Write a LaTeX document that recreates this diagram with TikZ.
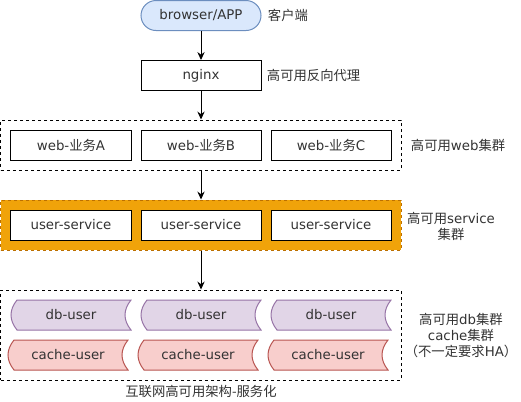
\documentclass[tikz,border=0pt]{standalone}
\usepackage{fontspec}
\setmainfont{DejaVu Sans}
\newfontfamily\cjk{Noto Sans CJK SC}
\usetikzlibrary{arrows.meta}
\definecolor{boxblue}{HTML}{DAE8FC}
\definecolor{lineblue}{HTML}{6C8EBF}
\definecolor{svcorange}{HTML}{F0A30A}
\definecolor{svcline}{HTML}{BD7000}
\definecolor{dbfill}{HTML}{E1D5E7}
\definecolor{dbline}{HTML}{9673A6}
\definecolor{cachefill}{HTML}{F8CECC}
\definecolor{cacheline}{HTML}{B85450}
\definecolor{txt}{HTML}{333333}
\newcommand{\datastore}[5]{%
  \draw[draw=#4,fill=#3,shift={#2}] (-54,-15) -- (60,-15) .. controls (52,-5) and (52,5) .. (60,15) -- (-54,15) .. controls (-62,5) and (-62,-5) .. cycle;
  \node[storetext] (#1) at #2 {#5};
}

\begin{document}
\begin{tikzpicture}[x=0.75pt,y=-0.75pt,line width=0.75pt,
	every node/.style={font=\fontsize{10pt}{12pt}\selectfont,text=txt},
	box/.style={draw,fill=white,minimum width=90pt,minimum height=22.5pt,inner sep=0pt},
	grp/.style={draw,dash pattern=on 2.25pt off 2.25pt,minimum width=300pt,inner sep=0pt},
	storetext/.style={minimum width=90pt,minimum height=22.5pt,inner sep=0pt},
	flow/.style={-{Stealth[length=6pt,width=5.5pt,inset=2pt]}},
	note/.style={align=center}]
		\useasboundingbox (-1,0) rectangle (520,401);
		\node[grp,minimum height=37.5pt] (webgrp) at (200,145) {};
		\node[grp,minimum height=37.5pt,fill=svcorange,draw=svcline] (svcgrp) at (200,225) {};
		\node[grp,minimum height=67.5pt] (storegrp) at (200,335) {};
		\node[box,rounded corners=11.25pt,fill=boxblue,draw=lineblue] (browser) at (200,15.5) {browser/APP};
		\node[box] (nginx) at (200,75.5) {nginx};
		\node[box] (webA) at (70,145) {web-{\cjk 业务}A};
		\node[box] (webB) at (200,145) {web-{\cjk 业务}B};
		\node[box] (webC) at (330,145) {web-{\cjk 业务}C};
		\node[box] (svcA) at (70,225) {user-service};
		\node[box] (svcB) at (200,225) {user-service};
		\node[box] (svcC) at (330,225) {user-service};
		\datastore{dbA}{(70,315)}{dbfill}{dbline}{db-user}
		\datastore{dbB}{(200,315)}{dbfill}{dbline}{db-user}
		\datastore{dbC}{(330,315)}{dbfill}{dbline}{db-user}
		\datastore{cacheA}{(67,355)}{cachefill}{cacheline}{cache-user}
		\datastore{cacheB}{(197,355)}{cachefill}{cacheline}{cache-user}
		\datastore{cacheC}{(327,355)}{cachefill}{cacheline}{cache-user}
		\draw[flow] (browser) -- (nginx);
		\draw[flow] (nginx) -- (webgrp);
		\draw[flow] (webgrp) -- (svcgrp);
		\draw[flow] (svcgrp) -- (storegrp);
		\node[anchor=west] (clientlbl) at (262,15.5) {{\cjk 客户端}};
		\node[anchor=west] (proxylbl) at (261,75) {{\cjk 高可用反向代理}};
		\node[anchor=west] (weblbl) at (405,145) {{\cjk 高可用}web{\cjk 集群}};
		\node[note] (svclbl) at (450,226) {{\cjk 高可用}service\\{\cjk 集群}};
		\node[note] (storelbl) at (460,336) {{\cjk 高可用}db{\cjk 集群}\\cache{\cjk 集群}\\{\cjk （不一定要求}HA{\cjk ）}};
		\node (titlelbl) at (200,391) {{\cjk 互联网高可用架构-服务化}};
	\end{tikzpicture}
\end{document}
